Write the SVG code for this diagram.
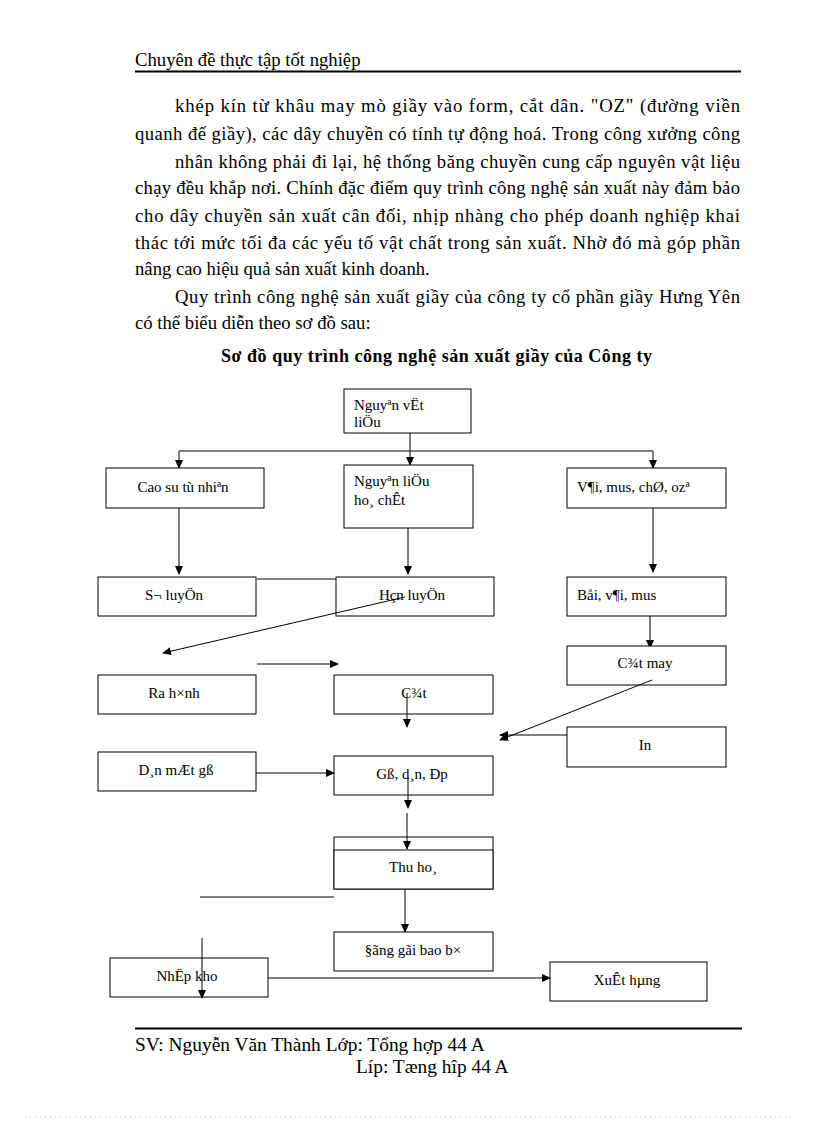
<svg xmlns="http://www.w3.org/2000/svg" width="816" height="1123" viewBox="0 0 816 1123">
<style>
text{font-family:"Liberation Serif","Times New Roman",serif;fill:#000}
.p{font-size:18.7px}
.b{font-size:15px}
.c{text-anchor:middle}
.box{fill:#fff;stroke:#000;stroke-width:1}
.ln{stroke:#000;stroke-width:1;fill:none}
.ar{stroke:#000;stroke-width:1;fill:none;marker-end:url(#ah)}
</style>
<defs>
<marker id="ah" markerWidth="9" markerHeight="8" refX="8" refY="4" orient="auto" markerUnits="userSpaceOnUse">
<path d="M0,0 L9,4 L0,8 z" fill="#000"/>
</marker>
</defs>
<rect width="816" height="1123" fill="#fff"/>

<g id="header">
<text x="135" y="66" class="p">Chuyên đề thực tập tốt nghiệp</text>
<line x1="135" y1="71.5" x2="741" y2="71.5" stroke="#000" stroke-width="2"/>
</g>

<g id="body">
<text x="175" y="112" class="p" textLength="565" lengthAdjust="spacing">khép kín từ khâu may mò giầy vào form, cắt dân. "OZ" (đường viền</text>
<text x="135" y="140" class="p" textLength="605" lengthAdjust="spacing">quanh đế giầy), các dây chuyền có tính tự động hoá. Trong công xưởng công</text>
<text x="175" y="168" class="p" textLength="565" lengthAdjust="spacing">nhân không phải đi lại, hệ thống băng chuyền cung cấp nguyên vật liệu</text>
<text x="135" y="194" class="p" textLength="605" lengthAdjust="spacing">chạy đều khắp nơi. Chính đặc điểm quy trình công nghệ sản xuất này đảm bảo</text>
<text x="135" y="222" class="p" textLength="605" lengthAdjust="spacing">cho dây chuyền sản xuất cân đối, nhịp nhàng cho phép doanh nghiệp khai</text>
<text x="135" y="249" class="p" textLength="605" lengthAdjust="spacing">thác tới mức tối đa các yếu tố vật chất trong sản xuất. Nhờ đó mà góp phần</text>
<text x="135" y="275" class="p">nâng cao hiệu quả sản xuất kinh doanh.</text>
<text x="175" y="303" class="p" textLength="565" lengthAdjust="spacing">Quy trình công nghệ sản xuất giầy của công ty cổ phần giầy Hưng Yên</text>
<text x="135" y="329" class="p">có thể biểu diễn theo sơ đồ sau:</text>
<text x="221" y="362" font-size="18px" font-weight="bold" textLength="431" lengthAdjust="spacing">Sơ đồ quy trình công nghệ sản xuất giầy của Công ty</text>
</g>

<g id="connectors">
<line class="ar" x1="410" y1="433" x2="410" y2="465"/>
<line class="ln" x1="179" y1="451" x2="653" y2="451"/>
<line class="ar" x1="179" y1="451" x2="179" y2="468"/>
<line class="ar" x1="653" y1="451" x2="653" y2="468"/>
<line class="ar" x1="179" y1="502" x2="179" y2="574"/>
<line class="ar" x1="408" y1="522" x2="408" y2="574"/>
<line class="ar" x1="653" y1="502" x2="653" y2="572"/>
<line class="ln" x1="257" y1="579" x2="336" y2="579"/>
<line class="ar" x1="650" y1="596" x2="650" y2="648"/>
<line class="ar" x1="257" y1="664" x2="338" y2="664"/>
<line class="ar" x1="567" y1="735" x2="500" y2="735"/>
<line class="ar" x1="256" y1="773" x2="334" y2="773"/>
<line class="ar" x1="405" y1="889" x2="405" y2="932"/>
<line class="ln" x1="200" y1="897" x2="334" y2="897"/>
<line class="ar" x1="268" y1="978" x2="550" y2="978"/>
</g>

<g id="n1"><rect class="box" x="344" y="389" width="127" height="44"/><text class="b" x="354" y="410">Nguyªn  vËt</text><text class="b" x="354" y="427">liÖu</text></g>
<g id="n2"><rect class="box" x="106" y="468" width="158" height="40"/><text class="b c" x="183" y="492">Cao su tù nhiªn</text></g>
<g id="n3"><rect class="box" x="344" y="465" width="129" height="63"/><text class="b" x="354" y="486">Nguyªn  liÖu</text><text class="b" x="354" y="505">ho¸  chÊt</text></g>
<g id="n4"><rect class="box" x="567" y="468" width="159" height="40"/><text class="b" x="577" y="492">V¶i, mus,  chØ, ozª</text></g>
<g id="n5"><rect class="box" x="98" y="577" width="158" height="39"/><text class="b c" x="174" y="600">S¬  luyÖn</text></g>
<g id="n6"><rect class="box" x="336" y="577" width="158" height="39"/><text class="b c" x="412" y="600">Hçn  luyÖn</text></g>
<g id="n7"><rect class="box" x="567" y="577" width="159" height="39"/><text class="b" x="577" y="600">Båi, v¶i,  mus</text></g>
<g id="n8"><rect class="box" x="567" y="646" width="159" height="39"/><text class="b c" x="645" y="668">C¾t may</text></g>
<g id="n9"><rect class="box" x="98" y="675" width="158" height="39"/><text class="b c" x="174" y="698">Ra h×nh</text></g>
<g id="n10"><rect class="box" x="334" y="675" width="159" height="39"/><text class="b c" x="414" y="698">C¾t</text></g>
<g id="n11"><rect class="box" x="567" y="727" width="159" height="40"/><text class="b c" x="645" y="750">In</text></g>
<g id="n12"><rect class="box" x="98" y="752" width="158" height="39"/><text class="b c" x="176" y="775">D¸n  mÆt  gß</text></g>
<g id="n13"><rect class="box" x="334" y="756" width="159" height="39"/><text class="b c" x="412" y="779">Gß, d¸n,  Ðp</text></g>
<g id="n14"><rect class="box" x="334" y="837" width="159" height="52"/><rect class="box" x="334" y="850" width="159" height="39"/><text class="b c" x="413" y="872">Thu  ho¸</text></g>
<g id="n15"><rect class="box" x="334" y="932" width="159" height="39"/><text class="b c" x="413" y="955">§ãng gãi bao b×</text></g>
<g id="n16"><rect class="box" x="110" y="958" width="158" height="39"/><text class="b c" x="187" y="981">NhËp kho</text></g>
<g id="n17"><rect class="box" x="550" y="962" width="157" height="39"/><text class="b c" x="627" y="985">XuÊt  hµng</text></g>

<g id="connectors-over">
<line class="ar" x1="405" y1="597" x2="163" y2="653"/>
<line class="ar" x1="652" y1="680" x2="500" y2="740"/>
<line class="ar" x1="407" y1="693" x2="407" y2="727"/>
<line class="ar" x1="408" y1="777" x2="408" y2="808"/>
<line class="ar" x1="407" y1="813" x2="407" y2="849"/>
<line class="ar" x1="202" y1="938" x2="202" y2="998"/>
</g>

<g id="footer">
<line x1="135" y1="1028.5" x2="742" y2="1028.5" stroke="#000" stroke-width="2"/>
<text x="135" y="1051" font-size="19.4px">SV: Nguyễn  Văn  Thành Lớp: Tổng hợp 44 A</text>
<text x="356" y="1073" font-size="19.4px">Líp: Tæng hîp 44 A</text>
<line x1="25" y1="1117" x2="792" y2="1117" stroke="#bbb" stroke-width="1" stroke-dasharray="1 4"/>
</g>
</svg>
